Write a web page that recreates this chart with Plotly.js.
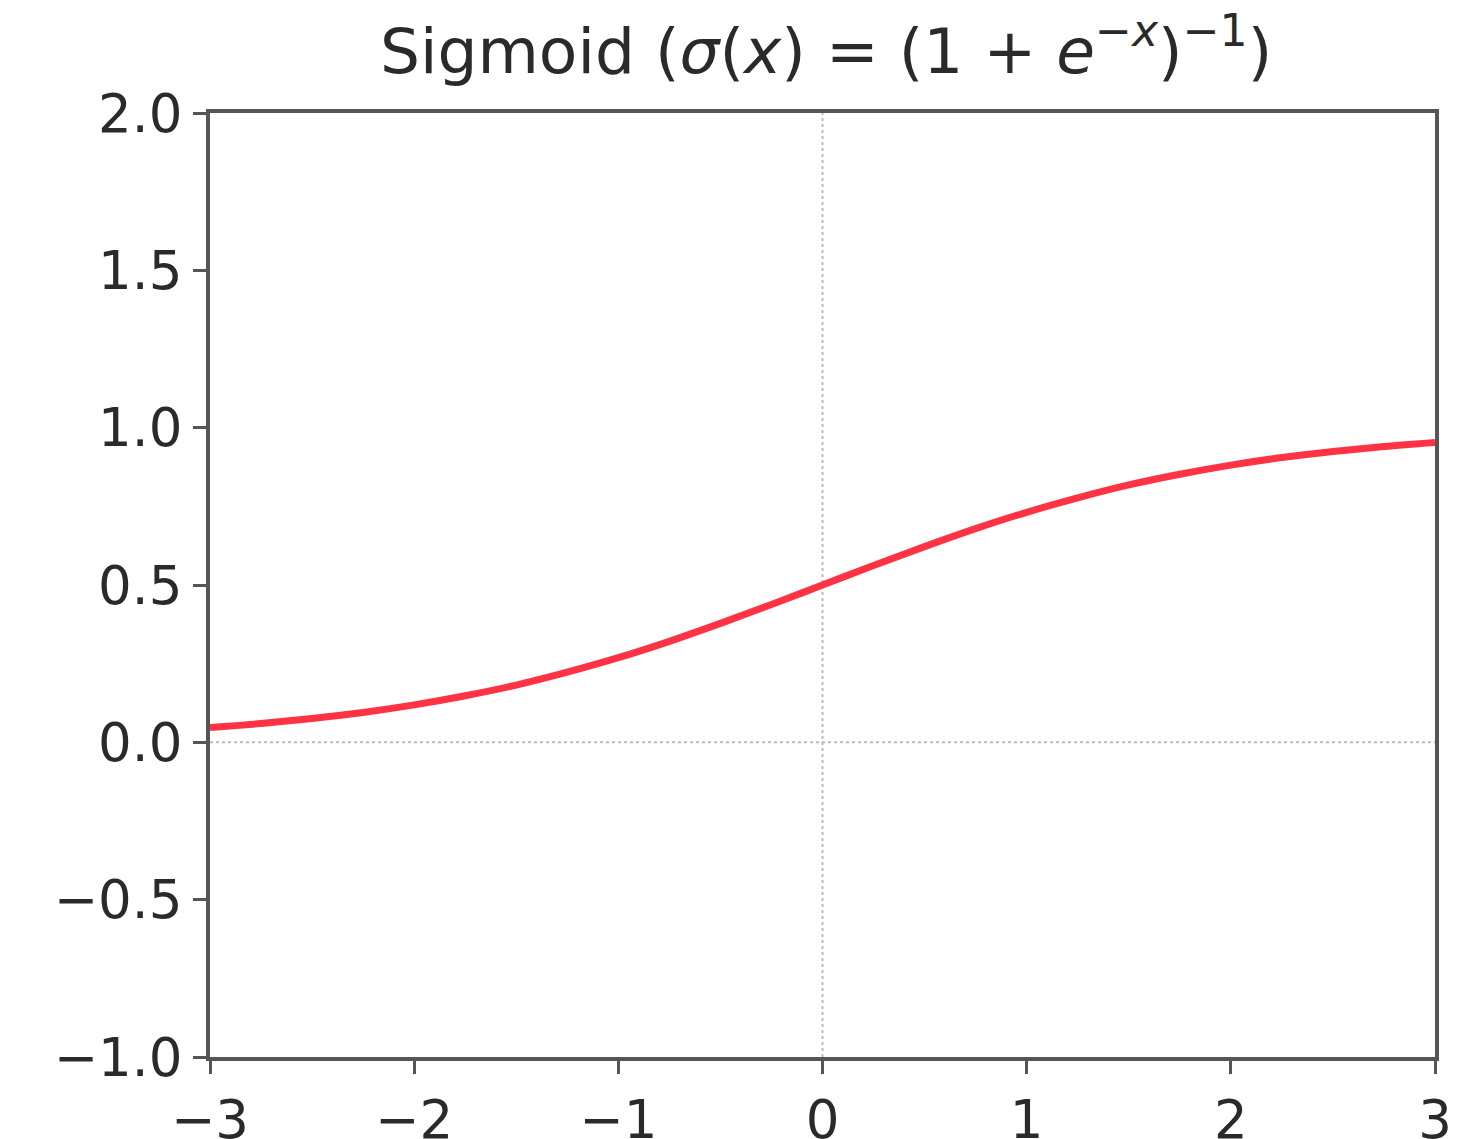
<!DOCTYPE html>
<html>
<head>
<meta charset="utf-8">
<script src="https://cdn.plot.ly/plotly-3.0.1.min.js"></script>
<style>html,body{margin:0;padding:0;background:#fff;}#chart{width:1470px;height:1139px;}</style>
</head>
<body>
<div id="chart"></div>
<script>
// Values
const xValues = [-3, -2.75, -2.5, -2.25, -2, -1.75, -1.5, -1.25, -1, -0.75, -0.5, -0.25, 0, 0.25, 0.5, 0.75, 1, 1.25, 1.5, 1.75, 2, 2.25, 2.5, 2.75, 3];
const sigmoidValues = [0.047, 0.060, 0.076, 0.095, 0.119, 0.148, 0.182, 0.223, 0.269, 0.321, 0.378, 0.438, 0.500, 0.562, 0.622, 0.679, 0.731, 0.777, 0.818, 0.852, 0.881, 0.905, 0.924, 0.940, 0.953];
const xTicks = [-3, -2, -1, 0, 1, 2, 3];
const xTickLabels = ['\u22123', '\u22122', '\u22121', '0', '1', '2', '3'];
const yTicks = [-1, -0.5, 0, 0.5, 1, 1.5, 2];
const yTickLabels = ['\u22121.0', '\u22120.5', '0.0', '0.5', '1.0', '1.5', '2.0'];
const titleText = 'Sigmoid (<i>\u03c3</i>(<i>x</i>) = (1 + <i>e</i><sup>\u2212<i>x</i></sup>)<sup>\u22121</sup>)';

const font = {family: 'DejaVu Sans, sans-serif', size: 53, color: '#2a2a2a'};

const trace = {
  x: xValues, y: sigmoidValues, type: 'scatter', mode: 'lines',
  line: {color: '#ff3344', width: 7, shape: 'spline', smoothing: 1},
  hoverinfo: 'skip'
};

const axisCommon = {
  showline: true, linewidth: 4, linecolor: '#555', mirror: true,
  ticks: 'outside', ticklen: 13, tickwidth: 3, tickcolor: '#555',
  showgrid: false, zeroline: false, tickfont: font
};

const layout = {
  width: 1470, height: 1139,
  paper_bgcolor: '#fff', plot_bgcolor: '#fff',
  margin: {l: 210, r: 35, t: 113, b: 82},
  showlegend: false,
  title: {text: titleText, font: {family: 'DejaVu Sans, sans-serif', size: 63, color: '#2a2a2a'}, x: 0.562, xanchor: 'center', y: 0.975, yanchor: 'top'},
  xaxis: Object.assign({}, axisCommon, {range: [-3, 3], tickvals: xTicks, ticktext: xTickLabels}),
  yaxis: Object.assign({}, axisCommon, {range: [-1, 2], tickvals: yTicks, ticktext: yTickLabels}),
  shapes: [
    {type: 'line', xref: 'x', yref: 'paper', x0: 0, x1: 0, y0: 0, y1: 1, line: {color: '#bbbbbb', width: 2, dash: 'dot'}, layer: 'below'},
    {type: 'line', xref: 'paper', yref: 'y', x0: 0, x1: 1, y0: 0, y1: 0, line: {color: '#bbbbbb', width: 2, dash: 'dot'}, layer: 'below'}
  ]
};

Plotly.newPlot('chart', [trace], layout, {displayModeBar: false, staticPlot: true});
</script>
</body>
</html>
